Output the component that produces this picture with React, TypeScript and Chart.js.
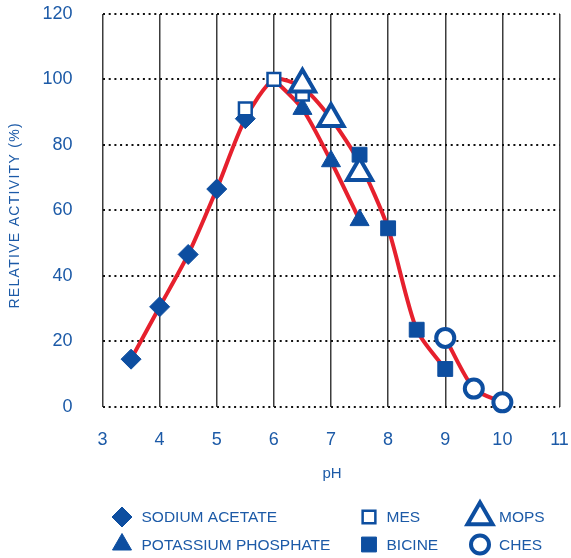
import React, { useEffect, useRef } from "react";
import { Chart, registerables } from "chart.js";
import { drawPoint } from "chart.js/helpers";

Chart.register(...registerables);

// ---- data ----
const acetateX = [3.5, 4, 4.5, 5, 5.5];
const acetateY = [14.5, 30.5, 46.5, 66.5, 88];
const mesX = [5.5, 6, 6.5];
const mesY = [91, 100, 95.5];
const phosphateX = [6.5, 7, 7.5];
const phosphateY = [91, 75, 57];
const mopsX = [6.5, 7, 7.5];
const mopsY = [98.5, 88, 71.5];
const bicineX = [7.5, 8, 8.5, 9];
const bicineY = [77, 54.5, 23.5, 11.5];
const chesX = [9, 9.5, 10];
const chesY = [21, 5.5, 1.3];

// red fitted curves
const curveMainX = [3.5, 4, 4.5, 5, 5.5, 6, 6.5, 7, 7.5, 8, 8.5, 9];
const curveMainY = [14.5, 30.5, 46.5, 66.5, 88, 100, 97.5, 88, 74.5, 54.5, 23.5, 11.5];
const curvePhosX = [6, 6.5, 7, 7.5];
const curvePhosY = [100, 91, 75, 57];
const curveChesX = [9, 9.5, 10];
const curveChesY = [21, 5.5, 1.3];

const xTicks = [3, 4, 5, 6, 7, 8, 9, 10, 11];
const yTicks = [0, 20, 40, 60, 80, 100, 120];

const legendNames = ["SODIUM ACETATE", "MES", "MOPS", "POTASSIUM PHOSPHATE", "BICINE", "CHES"];

const BLUE = "#0d4ea0";
const TEXT_BLUE = "#1c5aa7";
const RED = "#e6202d";
const FONT = "'Liberation Sans', Arial, sans-serif";

const pts = (xs: number[], ys: number[]) => xs.map((x, i) => ({ x, y: ys[i] }));

const markerStyles: Record<string, any> = {
  "SODIUM ACETATE": { pointStyle: "rectRot", pointRadius: 10, pointBackgroundColor: BLUE, pointBorderColor: BLUE, pointBorderWidth: 1 },
  MES: { pointStyle: "rect", pointRadius: 9, pointBackgroundColor: "#ffffff", pointBorderColor: BLUE, pointBorderWidth: 2.5 },
  MOPS: { pointStyle: "triangle", pointRadius: 14.5, pointBackgroundColor: "#ffffff", pointBorderColor: BLUE, pointBorderWidth: 4 },
  "POTASSIUM PHOSPHATE": { pointStyle: "triangle", pointRadius: 11, pointBackgroundColor: BLUE, pointBorderColor: BLUE, pointBorderWidth: 1 },
  BICINE: { pointStyle: "rect", pointRadius: 10.5, pointBackgroundColor: BLUE, pointBorderColor: BLUE, pointBorderWidth: 1 },
  CHES: { pointStyle: "circle", pointRadius: 9, pointBackgroundColor: "#ffffff", pointBorderColor: BLUE, pointBorderWidth: 4 },
};

const seriesData: Record<string, { x: number; y: number }[]> = {
  "SODIUM ACETATE": pts(acetateX, acetateY),
  MES: pts(mesX, mesY),
  MOPS: pts(mopsX, mopsY),
  "POTASSIUM PHOSPHATE": pts(phosphateX, phosphateY),
  BICINE: pts(bicineX, bicineY),
  CHES: pts(chesX, chesY),
};

const drawOrder = ["SODIUM ACETATE", "POTASSIUM PHOSPHATE", "BICINE", "MES", "MOPS", "CHES"];

const overlayPlugin = {
  id: "overlay",
  afterDraw(chart: any) {
    const ctx = chart.ctx;
    const area = chart.chartArea;
    ctx.save();
    // y title
    ctx.fillStyle = TEXT_BLUE;
    ctx.font = `14px ${FONT}`;
    try { (ctx as any).letterSpacing = "1.3px"; } catch (e) {}
    ctx.textAlign = "center";
    ctx.textBaseline = "middle";
    ctx.translate(15, (area.top + area.bottom) / 2 + 5);
    ctx.rotate(-Math.PI / 2);
    ctx.fillText("RELATIVE ACTIVITY (%)", 0, 0);
    ctx.restore();

    ctx.save();
    ctx.fillStyle = TEXT_BLUE;
    ctx.font = `15px ${FONT}`;
    ctx.textAlign = "center";
    ctx.textBaseline = "middle";
    ctx.fillText("pH", (area.left + area.right) / 2 + 1, 474);
    ctx.restore();

    // legend
    const colX = [122, 369, 480];
    const textX = [141.5, 386.5, 499];
    const rowY = [517, 544.5];
    legendNames.forEach((name, i) => {
      const c = i % 3;
      const r = Math.floor(i / 3);
      const s = markerStyles[name];
      ctx.save();
      ctx.fillStyle = s.pointBackgroundColor;
      ctx.strokeStyle = s.pointBorderColor;
      ctx.lineWidth = s.pointBorderWidth;
      drawPoint(ctx, { pointStyle: s.pointStyle, radius: s.pointRadius, rotation: 0, borderWidth: s.pointBorderWidth }, colX[c], rowY[r]);
      ctx.restore();
      ctx.save();
      ctx.fillStyle = TEXT_BLUE;
      ctx.font = `15.5px ${FONT}`;
      ctx.textAlign = "left";
      ctx.textBaseline = "middle";
      ctx.fillText(name, textX[c], rowY[r] + 1);
      ctx.restore();
    });
  },
};

const noPad = (scale: any) => {
  scale.paddingTop = 0;
  scale.paddingBottom = 0;
  scale.paddingLeft = 0;
  scale.paddingRight = 0;
};

export default function App() {
  const ref = useRef<HTMLCanvasElement | null>(null);
  useEffect(() => {
    document.body.style.margin = "0";
    if (!ref.current) return;
    const markerSets = drawOrder.map((name) => ({
      label: name,
      data: seriesData[name],
      showLine: false,
      ...markerStyles[name],
      clip: false as any,
    }));
    const curve = (xs: number[], ys: number[]) => ({
      label: "curve",
      data: pts(xs, ys),
      borderColor: RED,
      borderWidth: 4,
      pointRadius: 0,
      tension: 0.25,
      fill: false,
      clip: false as any,
    });
    const chart = new Chart(ref.current, {
      type: "line",
      data: {
        datasets: [
          ...markerSets.reverse(),
          curve(curveMainX, curveMainY),
          curve(curvePhosX, curvePhosY),
          curve(curveChesX, curveChesY),
        ] as any,
      },
      options: {
        animation: false,
        responsive: false,
        events: [],
        layout: { autoPadding: false, padding: { left: 0, right: 11.5, top: 14, bottom: 0 } },
        plugins: { legend: { display: false }, tooltip: { enabled: false } },
        scales: {
          x: {
            type: "linear",
            min: xTicks[0],
            max: xTicks[xTicks.length - 1],
            afterBuildTicks: (scale: any) => {
              scale.ticks = xTicks.map((v) => ({ value: v }));
            },
            afterFit: (scale: any) => {
              scale.height = 151.4;
              noPad(scale);
            },
            grid: { color: "#3c3c3c", lineWidth: 1.5, drawTicks: false },
            border: { display: false },
            ticks: { color: TEXT_BLUE, font: { family: FONT, size: 18 }, padding: 23 },
          },
          y: {
            type: "linear",
            min: yTicks[0],
            max: yTicks[yTicks.length - 1],
            afterBuildTicks: (scale: any) => {
              scale.ticks = yTicks.map((v) => ({ value: v }));
            },
            afterFit: (scale: any) => {
              scale.width = 102.5;
              noPad(scale);
            },
            grid: { color: "#111111", lineWidth: 2, drawTicks: false },
            border: { display: false, dash: [2, 3.7] },
            ticks: { color: TEXT_BLUE, font: { family: FONT, size: 18 }, padding: 30 },
          },
        },
      },
      plugins: [overlayPlugin],
    });
    return () => chart.destroy();
  }, []);
  return (
    <div style={{ width: 571, height: 558 }}>
      <canvas ref={ref} width={571} height={558} style={{ display: "block" }} />
    </div>
  );
}
